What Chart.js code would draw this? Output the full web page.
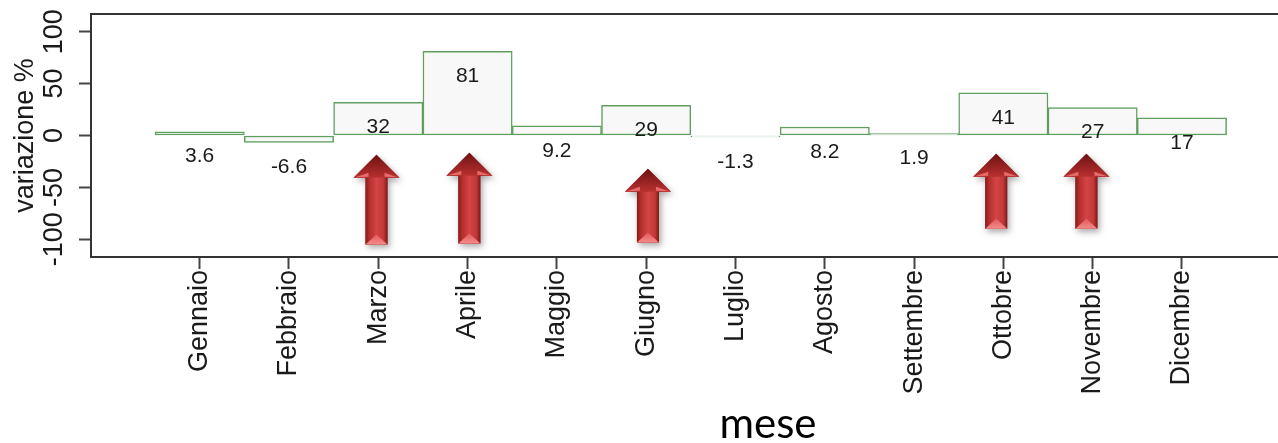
<!DOCTYPE html>
<html lang="it">
<head>
<meta charset="utf-8">
<title>Variazione % per mese</title>
<script src="https://cdn.jsdelivr.net/npm/chart.js@4.4.1/dist/chart.umd.min.js"></script>
<style>
  html, body { margin: 0; padding: 0; background: #fff; overflow: hidden; }
  #wrap { position: relative; width: 1300px; height: 443px; }
</style>
</head>
<body>
<div id="wrap"><canvas id="grafico"></canvas></div>
<script>
// Mesi e variazione percentuale
const mesi = ['Gennaio', 'Febbraio', 'Marzo', 'Aprile', 'Maggio', 'Giugno',
              'Luglio', 'Agosto', 'Settembre', 'Ottobre', 'Novembre', 'Dicembre'];
const variazione = [3.6, -6.6, 32, 81, 9.2, 29, -1.3, 8.2, 1.9, 41, 27, 17];
const tickY = [-100, -50, 0, 50, 100];

// Frecce rosse sotto i mesi evidenziati (indice mese, spostamento, punta, base in unità dell'asse y)
const frecceMese  = [2, 3, 5, 9, 10];
const frecceSpost = [-0.02, 0.02, 0.02, -0.08, -0.07];
const frecceCima  = [-18.6, -16.6, -32, -17.6, -17.6];
const frecceBase  = [-105, -104, -103, -89.7, -89.7];

// Le etichette dei valori stanno 24 unità sotto il valore della barra
const SCOSTAMENTO_ETICHETTA = 24;

const FONT = '"Liberation Sans", Arial, Helvetica, sans-serif';
const TESTO = '#1a1a1a';

const cornice = {
  id: 'cornice',
  afterDraw(chart) {
    const { ctx, chartArea: a } = chart;
    ctx.save();
    ctx.strokeStyle = '#333';
    ctx.lineWidth = 2;
    ctx.beginPath();
    ctx.moveTo(a.left, a.top);
    ctx.lineTo(a.right, a.top);
    ctx.lineTo(a.right, a.bottom);
    ctx.stroke();
    ctx.restore();
  }
};

const etichetteValori = {
  id: 'etichetteValori',
  afterDatasetsDraw(chart) {
    const { ctx, scales: { x, y } } = chart;
    ctx.save();
    ctx.font = '21px ' + FONT;
    ctx.fillStyle = TESTO;
    ctx.textAlign = 'center';
    ctx.textBaseline = 'middle';
    variazione.forEach((v, i) => {
      ctx.fillText(String(v), x.getPixelForValue(i), y.getPixelForValue(v - SCOSTAMENTO_ETICHETTA));
    });
    ctx.restore();
  }
};

function disegnaFreccia(ctx, cx, yCima, yBase) {
  const mezzoStelo = 11, mezzaTesta = 23, altTesta = 23;
  const yCollo = yCima + altTesta;
  const sagoma = () => {
    ctx.beginPath();
    ctx.moveTo(cx, yCima);
    ctx.lineTo(cx + mezzaTesta, yCollo);
    ctx.lineTo(cx + mezzoStelo, yCollo);
    ctx.lineTo(cx + mezzoStelo, yBase);
    ctx.lineTo(cx - mezzoStelo, yBase);
    ctx.lineTo(cx - mezzoStelo, yCollo);
    ctx.lineTo(cx - mezzaTesta, yCollo);
    ctx.closePath();
  };
  // ombra
  ctx.save();
  ctx.shadowColor = 'rgba(0,0,0,0.35)';
  ctx.shadowBlur = 6;
  ctx.shadowOffsetX = 2;
  ctx.shadowOffsetY = 3;
  sagoma();
  ctx.fillStyle = '#a82a2a';
  ctx.fill();
  ctx.restore();

  // stelo
  const gs = ctx.createLinearGradient(cx - mezzoStelo, 0, cx + mezzoStelo, 0);
  gs.addColorStop(0, '#861c1c');
  gs.addColorStop(0.18, '#b52f2f');
  gs.addColorStop(0.5, '#d44444');
  gs.addColorStop(0.82, '#c23838');
  gs.addColorStop(1, '#7c1818');
  ctx.fillStyle = gs;
  ctx.fillRect(cx - mezzoStelo, yCollo - 1, mezzoStelo * 2, yBase - yCollo + 1);

  // testa
  const gt = ctx.createLinearGradient(0, yCima, 0, yCollo);
  gt.addColorStop(0, '#6e1212');
  gt.addColorStop(1, '#b83030');
  ctx.fillStyle = gt;
  ctx.beginPath();
  ctx.moveTo(cx, yCima);
  ctx.lineTo(cx + mezzaTesta, yCollo);
  ctx.lineTo(cx - mezzaTesta, yCollo);
  ctx.closePath();
  ctx.fill();

  // riflessi sotto la testa
  ctx.fillStyle = 'rgba(240,120,120,0.85)';
  ctx.beginPath();
  ctx.moveTo(cx - mezzaTesta + 2, yCollo - 0.5);
  ctx.lineTo(cx - mezzoStelo + 3, yCollo - 5);
  ctx.lineTo(cx - mezzoStelo + 3, yCollo - 1);
  ctx.closePath();
  ctx.fill();
  ctx.beginPath();
  ctx.moveTo(cx + mezzaTesta - 2, yCollo - 0.5);
  ctx.lineTo(cx + mezzoStelo - 3, yCollo - 5);
  ctx.lineTo(cx + mezzoStelo - 3, yCollo - 1);
  ctx.closePath();
  ctx.fill();

  // smusso chiaro alla base
  const gb = ctx.createLinearGradient(0, yBase - 10, 0, yBase);
  gb.addColorStop(0, '#e25a5a');
  gb.addColorStop(1, '#f58a8a');
  ctx.fillStyle = gb;
  ctx.beginPath();
  ctx.moveTo(cx - mezzoStelo, yBase);
  ctx.lineTo(cx, yBase - 10);
  ctx.lineTo(cx + mezzoStelo, yBase);
  ctx.closePath();
  ctx.fill();
}

const frecce = {
  id: 'frecce',
  afterDatasetsDraw(chart) {
    const { ctx, scales: { x, y } } = chart;
    frecceMese.forEach((m, k) => {
      disegnaFreccia(ctx,
        x.getPixelForValue(m + frecceSpost[k]),
        y.getPixelForValue(frecceCima[k]),
        y.getPixelForValue(frecceBase[k]));
    });
  }
};

const titoloAsseX = {
  id: 'titoloAsseX',
  afterDraw(chart) {
    const { ctx } = chart;
    ctx.save();
    ctx.font = '42px Lato, "Open Sans", sans-serif';
    ctx.fillStyle = '#000';
    ctx.textAlign = 'center';
    ctx.textBaseline = 'alphabetic';
    ctx.fillText('mese', 768, 438);
    ctx.restore();
  }
};

new Chart(document.getElementById('grafico'), {
  type: 'bar',
  data: {
    datasets: [{
      data: variazione.map((v, i) => ({ x: i, y: v })),
      backgroundColor: '#f8f8f8',
      borderColor: '#5f9f5f',
      borderWidth: 1.5,
      borderSkipped: false,
      barPercentage: 1,
      categoryPercentage: 1
    }]
  },
  options: {
    responsive: true,
    maintainAspectRatio: false,
    animation: false,
    layout: { padding: { top: 14, right: 10, left: 0, bottom: 0 } },
    plugins: { legend: { display: false }, tooltip: { enabled: false } },
    scales: {
      x: {
        type: 'linear',
        offset: false,
        min: -1.217,
        max: 12.21,
        afterBuildTicks: s => { s.ticks = mesi.map((_, i) => ({ value: i })); },
        afterFit: s => { s.height = 186; },
        ticks: {
          callback: v => mesi[v] ?? '',
          autoSkip: false,
          minRotation: 90,
          maxRotation: 90,
          padding: 1,
          color: TESTO,
          font: { family: FONT, size: 27 }
        },
        grid: { display: true, offset: false, drawOnChartArea: false, drawTicks: true, tickLength: 12, tickColor: '#444', tickWidth: 2 },
        border: { display: true, color: '#333', width: 2 }
      },
      y: {
        min: -117,
        max: 117,
        afterBuildTicks: s => { s.ticks = tickY.map(v => ({ value: v })); },
        afterFit: s => { s.width = 91; },
        ticks: {
          minRotation: 90,
          maxRotation: 90,
          crossAlign: 'center',
          padding: -3,
          color: TESTO,
          font: { family: FONT, size: 27 }
        },
        grid: { display: true, drawOnChartArea: false, drawTicks: true, tickLength: 12, tickColor: '#444', tickWidth: 2 },
        border: { display: true, color: '#333', width: 2 },
        title: {
          display: true,
          text: 'variazione %',
          color: TESTO,
          font: { family: FONT, size: 27 },
          padding: { top: 9, bottom: 0 }
        }
      }
    }
  },
  plugins: [cornice, etichetteValori, frecce, titoloAsseX]
});
</script>
</body>
</html>
